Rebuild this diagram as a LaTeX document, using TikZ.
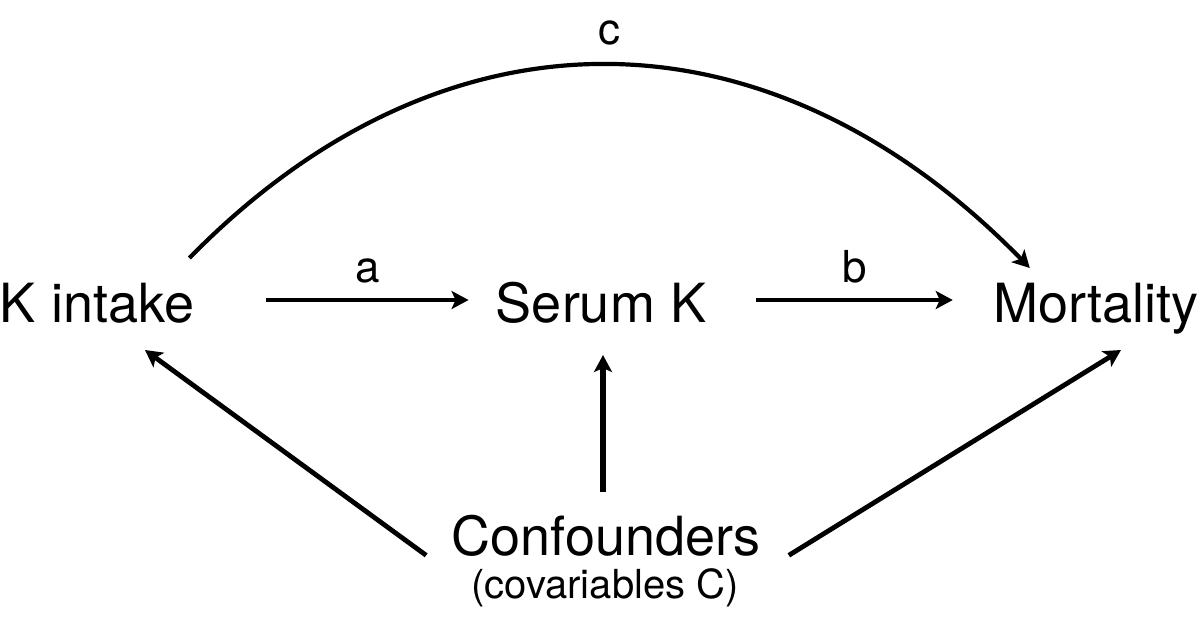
\documentclass[tikz,border=0pt]{standalone}
\usepackage{fontspec}
\setmainfont{TeX Gyre Heros}
\usetikzlibrary{arrows.meta}

\begin{document}
\begin{tikzpicture}[x=0.5pt,y=0.5pt,yscale=-1,xscale=1,
  txt/.style={anchor=base,inner sep=0pt,font=\fontsize{27}{30}\selectfont},
  small/.style={anchor=base,inner sep=0pt,font=\fontsize{20}{24}\selectfont},
  lbl/.style={inner sep=0pt,font=\fontsize{22}{26}\selectfont},
  arr/.style={line width=2.4pt,-{Stealth[length=8.5pt,width=9pt,inset=2pt]}}]
%set diagram size to the reference frame
\useasboundingbox (0,0) rectangle (1200,623);

% Text Node
\node [txt] (kintake) at (97,322) {K intake};
% Text Node
\node [txt] (serum) at (601,322) {Serum K};
% Text Node
\node [txt] (mortality) at (1096,322) {Mortality};
% Text Node
\node [txt] (confound) at (606,555) {Confounders};
% Text Node
\node [small] (covar) at (605,598) {(covariables C)};

%Straight Lines a
\draw [arr] ([shift={(72,-22)}]kintake.base east) -- ([shift={(-27,-22)}]serum.base west)
  node [lbl,midway,above=7pt] (lbla) {a};
%Straight Lines b
\draw [arr] ([shift={(50,-22)}]serum.base east) -- ([shift={(-40,-22)}]mortality.base west)
  node [lbl,midway,above=7pt] (lblb) {b};
%Straight Lines up
\draw [arr,line width=2.8pt] ([shift={(-3,-22)}]confound.north) -- ([shift={(2,33)}]serum.base);
%Straight Lines left
\draw [arr] ([shift={(-25,20)}]confound.west) -- ([shift={(48,28)}]kintake.base);
%Straight Lines right
\draw [arr] ([shift={(28,20)}]confound.east) -- ([shift={(25,28)}]mortality.base);
%Curve c
\draw [arr,line width=2.1pt] ([shift={(-5,-64)}]kintake.base east) .. controls (448,-6) and (772,4) .. ([shift={(37,-54)}]mortality.base west)
  node [lbl,pos=0.5,above=9pt] (lblc) {c};

\end{tikzpicture}
\end{document}
